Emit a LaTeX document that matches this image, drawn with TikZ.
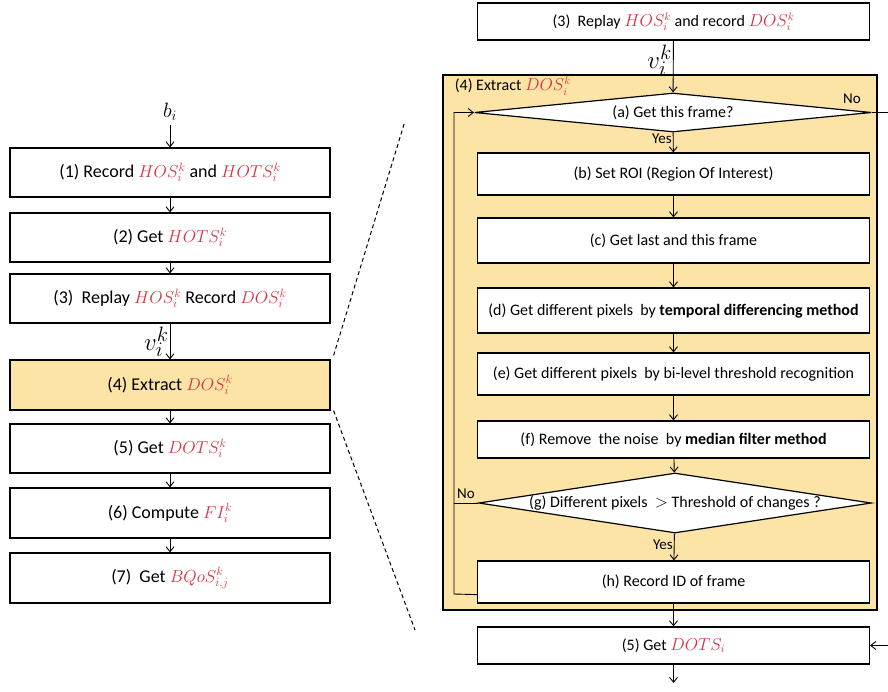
\documentclass[tikz,border=0pt]{standalone}
\usepackage{fontspec}
\setmainfont{Carlito}
\usetikzlibrary{shapes,shapes.geometric,calc,positioning,arrows.meta}
\definecolor{varred}{HTML}{D8303F}
\definecolor{extractfill}{HTML}{FCE4A6}
\newcommand{\rv}[1]{\textcolor{varred}{$#1$}}

\begin{document}
\begin{tikzpicture}
[x=1pt,y=-1pt,->,line width=0.9pt,>={Straight Barb[length=5pt,width=8pt]},
lbox/.style={draw,rectangle,line width=1.2pt,fill=white,minimum width=320,
	minimum height=49,font=\fontsize{18}{20}\selectfont},
rbox/.style={draw,rectangle,line width=1.2pt,fill=white,minimum width=392,
	font=\fontsize{16}{18}\selectfont},
decision/.style={draw,diamond,aspect=7,inner sep=0pt,line width=1.2pt,fill=white,
	font=\fontsize{16}{18}\selectfont},
frame/.style={draw,rectangle,line width=1.2pt,fill=extractfill},
lbl/.style={font=\fontsize{15}{17}\selectfont,inner sep=1pt},
varlbl/.style={inner sep=1pt,font=\fontsize{28}{28}\selectfont},
zoomline/.style={-,dash pattern=on 4pt off 3pt,line width=1pt}]
\useasboundingbox (0,0) rectangle (888,691);
% left column
\node[font=\fontsize{22}{24}\selectfont] (bi) at (170,112) {$b_i$};
\node[lbox] (l1) at (170,172.5) {(1) Record \rv{HOS_i^k} and \rv{HOTS_i^k}};
\node[lbox] (l2) at (170,237.5) {(2) Get \rv{HOTS_i^k}};
\node[lbox] (l3) at (170,298.5) {(3)\ \ Replay \rv{HOS_i^k} Record \rv{DOS_i^k}};
\node[lbox,fill=extractfill,minimum height=50] (l4) at (170,385) {(4) Extract \rv{DOS_i^k}};
\node[lbox] (l5) at (170,448.5) {(5) Get \rv{DOTS_i^k}};
\node[lbox,minimum height=50] (l6) at (170,513) {(6) Compute \rv{FI_i^k}};
\node[lbox,minimum height=50] (l7) at (170,578) {(7)\ \ Get \rv{BQoS_{i,j}^k}};
\draw (bi) -- (l1);
\draw (l1) -- (l2);
\draw (l2) -- (l3);
\draw (l3) -- (l4) node[midway,left,varlbl] {$v_i^k$};
\draw (l4) -- (l5);
\draw (l5) -- (l6);
\draw (l6) -- (l7);
% zoom lines
\coordinate (zt) at (405,121);
\coordinate (zb) at (415,630);
\draw[zoomline] ([shift={(3pt,4pt)}]l4.north east) -- (zt);
\draw[zoomline] ([shift={(3pt,0pt)}]l4.south east) -- (zb);
% right column
\node[rbox,minimum height=37] (r3) at (673.5,21.5) {(3)\ \ Replay \rv{HOS_i^k} and record \rv{DOS_i^k}};
\node[frame,minimum width=434,minimum height=535] (ex) at (660,342.5) {};
\node[anchor=west,font=\fontsize{16}{18}\selectfont] (exl) at (451,86) {(4) Extract \rv{DOS_i^k}};
\node[decision,minimum width=397,minimum height=39] (da) at (673,112.5) {(a) Get this frame?};
\node[rbox,minimum height=42] (db) at (673.5,174) {(b) Set ROI (Region Of Interest)};
\node[rbox,minimum height=45] (dc) at (673.5,240.5) {(c) Get last and this frame};
\node[rbox,minimum height=45] (dd) at (673.5,310.5) {(d) Get different pixels\ \ by \textbf{temporal differencing method}};
\node[rbox,minimum height=42] (de) at (673.5,374) {(e) Get different pixels\ \ by bi-level threshold recognition};
\node[rbox,minimum height=37] (df) at (673.5,439.5) {(f) Remove\ \ the noise\ \ by \textbf{median filter method}};
\node[decision,minimum width=390,minimum height=60] (dg) at (675,503) {(g) Different pixels\ \ $>$ Threshold of changes ?};
\node[rbox,minimum height=42] (dh) at (673.5,582) {(h) Record ID of frame};
\node[rbox,minimum height=37] (r5) at (673.5,645.5) {(5) Get \rv{DOTS_i}};
\coordinate (noa) at (888,112.5);
\coordinate (lp) at (454,594);
\coordinate (rin) at (888,645.5);
\coordinate (out) at (673.5,683);
\draw (r3) -- (da) node[pos=0.38,left,varlbl] {$v_i^k$};
\draw (da) -- (db) node[pos=0.3,left,lbl] {Yes};
\draw (db) -- (dc);
\draw (dc) -- (dd);
\draw (dd) -- (de);
\draw (de) -- (df);
\draw (df) -- (dg);
\draw (dg) -- (dh) node[pos=0.4,left,lbl] {Yes};
\draw (dh) -- (r5);
\draw (r5) -- (out);
\draw[-] (da.east) -- (noa) node[at start,anchor=south east,lbl,xshift=-10pt,yshift=7pt] {No};
\draw ([yshift=9pt]dh.south west) -- (lp) |- (da.west);
\draw[-] (dg.west) -- (dg.west -| lp) node[midway,above,lbl,yshift=3pt] {No};
\draw (rin) -- (r5.east);
\end{tikzpicture}
\end{document}
